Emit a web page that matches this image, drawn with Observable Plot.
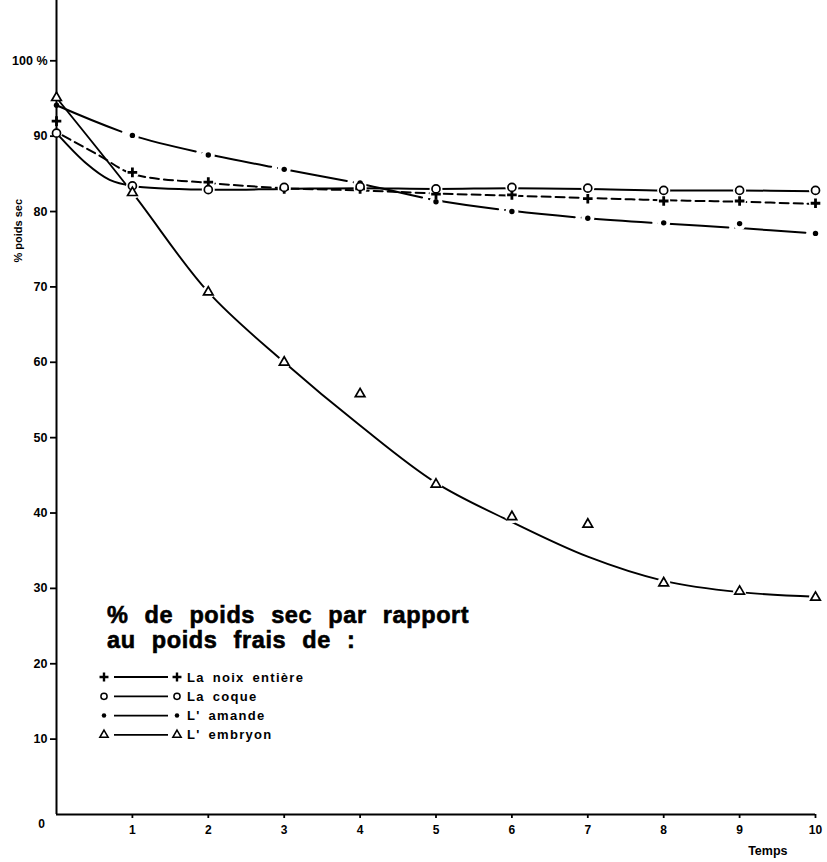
<!DOCTYPE html>
<html><head><meta charset="utf-8">
<script src="https://cdn.jsdelivr.net/npm/d3@7"></script>
<script src="https://cdn.jsdelivr.net/npm/@observablehq/plot@0.6"></script>
<style>
body{margin:0;background:#fff;}
#wrap{position:relative;width:827px;height:862px;}
#legend{position:absolute;left:0;top:0;pointer-events:none;}
</style></head><body><div id="wrap"></div>
<script>
// ---- data ----
const temps = [0, 1, 2, 3, 4, 5, 6, 7, 8, 9, 10];
// measured points
const noix    = [92.0, 85.2, 83.9, 83.0, 83.0, 82.3, 82.2, 81.7, 81.4, 81.4, 81.1];
const coque   = [90.4, 83.4, 82.9, 83.2, 83.3, 83.0, 83.2, 83.1, 82.8, 82.8, 82.8];
const amande  = [94.1, 90.1, 87.5, 85.6, 83.8, 81.3, 80.0, 79.1, 78.5, 78.4, 77.1];
const embryon = [95.1, 82.5, 69.3, 60.0, 55.8, 43.8, 39.5, 38.5, 30.7, 29.6, 28.8];
// hand-drawn fitted curves
const noixCurveX    = [0.08, 0.57, 1, 2, 3, 4, 5, 6, 7, 8, 9, 10];
const noixCurveY    = [90.1, 87.4, 85.0, 83.8, 83.1, 82.8, 82.4, 82.1, 81.8, 81.5, 81.3, 81.0];
const coqueCurveX   = [0, 0.39, 0.7, 1, 2, 3, 4, 5, 6, 7, 8, 9, 10];
const coqueCurveY   = [90.4, 86.4, 84.2, 83.4, 82.9, 83.0, 83.1, 83.0, 83.1, 83.0, 82.8, 82.8, 82.7];
const amandeCurveX  = [0, 1, 2, 3, 4, 5, 6, 7, 8, 9, 10];
const amandeCurveY  = [94.1, 90.1, 87.6, 85.6, 83.7, 81.5, 80.1, 79.1, 78.4, 77.8, 77.1];
const embryonCurveX = [0, 1, 2, 3, 4, 5, 6, 7, 8, 9, 10];
const embryonCurveY = [95.1, 82.5, 69.3, 60.0, 51.6, 44.0, 38.8, 34.2, 31.0, 29.5, 28.9];

const xTicks = [1, 2, 3, 4, 5, 6, 7, 8, 9, 10];
const yTicks = [10, 20, 30, 40, 50, 60, 70, 80, 90, 100];
const yTickLabels = ["10", "20", "30", "40", "50", "60", "70", "80", "90", "100 %"];
const xTitle = "Temps";
const yTitle = "% poids sec";
const originLabel = "0";
const legendTitle = ["% de poids sec par rapport", "au poids frais de :"];
const seriesNames = ["La noix entière", "La coque", "L' amande", "L' embryon"];

// ---- build tables ----
const pts = (ys) => temps.map((t, i) => ({x: t, y: ys[i]}));
const crv = (xs, ys) => xs.map((x, i) => ({x, y: ys[i]}));
const P = {noix: pts(noix), coque: pts(coque), amande: pts(amande), embryon: pts(embryon)};
const C = {
  noix: crv(noixCurveX, noixCurveY), coque: crv(coqueCurveX, coqueCurveY),
  amande: crv(amandeCurveX, amandeCurveY), embryon: crv(embryonCurveX, embryonCurveY)
};
const allPts = [...P.noix, ...P.coque, ...P.amande, ...P.embryon].filter(d => d.x > 0);

const FONT = "'Liberation Sans', Arial, sans-serif";
const lineOpt = {x: "x", y: "y", curve: "catmull-rom", stroke: "#000", strokeWidth: 2};

const chart = Plot.plot({
  width: 827, height: 862,
  marginLeft: 56, marginRight: 12, marginTop: 0, marginBottom: 48,
  x: {domain: [0, 10], axis: null},
  y: {domain: [0, 108], axis: null},
  style: {fontFamily: FONT, background: "#fff", color: "#000"},
  marks: [
    Plot.axisY(yTicks, {label: null, tickSize: 6, tickPadding: 3, strokeWidth: 1.8,
      tickFormat: (d) => yTickLabels[yTicks.indexOf(d)], fontSize: 12.5, fontWeight: "bold"}),
    Plot.axisX(xTicks, {label: null, tickSize: 4, tickPadding: 7, strokeWidth: 1.8,
      fontSize: 12, fontWeight: "bold"}),
    Plot.line(C.noix, {...lineOpt, strokeDasharray: "9,5"}),
    Plot.line(C.coque, {...lineOpt}),
    Plot.line(C.amande, {...lineOpt, strokeDasharray: "70,7"}),
    Plot.line(C.embryon, {...lineOpt, strokeWidth: 1.9}),
    // white halos to open gaps in the lines around markers
    Plot.dot(allPts, {x: "x", y: "y", r: 6.5, fill: "#fff", stroke: "none"}),
    Plot.ruleX([0], {stroke: "#000", strokeWidth: 2}),
    Plot.ruleY([0], {stroke: "#000", strokeWidth: 2}),
    Plot.dot(P.amande, {x: "x", y: "y", r: 2.7, fill: "#000", stroke: "none"}),
    Plot.dot(P.noix, {x: "x", y: "y", symbol: "plus", r: 3.2, stroke: "#000", strokeWidth: 2.8}),
    Plot.dot(P.coque, {x: "x", y: "y", r: 4, fill: "#fff", stroke: "#000", strokeWidth: 1.7}),
    Plot.dot(P.embryon, {x: "x", y: "y", symbol: "triangle2", r: 4.6, fill: "#fff", stroke: "#000", strokeWidth: 1.7}),
    Plot.text([originLabel], {x: () => 0, y: () => 0, text: (d) => d, dx: -15, dy: 10,
      fontSize: 12, fontWeight: "bold"}),
    Plot.text([xTitle], {frameAnchor: "bottom-right", text: (d) => d, dx: -28, dy: 40,
      fontSize: 12.5, fontWeight: "bold", textAnchor: "end"}),
    Plot.text([yTitle], {frameAnchor: "top-left", text: (d) => d, dx: -42, dy: 262,
      rotate: -90, fontSize: 11, fontWeight: "bold"})
  ]
});
const wrap = document.getElementById("wrap");
wrap.appendChild(chart);

// ---- legend overlay ----
const leg = d3.select(wrap).append("svg").attr("id", "legend")
  .attr("width", 827).attr("height", 862);
leg.selectAll("text.title").data(legendTitle).join("text")
  .attr("x", 107).attr("y", (d, i) => 623 + i * 25)
  .attr("font-family", FONT).attr("font-weight", 900).attr("font-size", 23.5)
  .attr("word-spacing", 9).attr("letter-spacing", 0.6)
  .attr("stroke", "#000").attr("stroke-width", 0.6)
  .text(d => d);
const symbols = [
  {type: d3.symbolPlus, size: 28, fill: "none", sw: 2.4},
  {type: d3.symbolCircle, size: 30, fill: "#fff", sw: 1.5},
  {type: d3.symbolCircle, size: 16, fill: "#000", sw: 0},
  {type: d3.symbolTriangle2, size: 50, fill: "#fff", sw: 1.5}
];
const rows = leg.selectAll("g.row").data(seriesNames).join("g")
  .attr("transform", (d, i) => `translate(0,${677 + i * 19.3})`);
rows.append("line").attr("x1", 114).attr("x2", 168).attr("y1", 0).attr("y2", 0)
  .attr("stroke", "#000").attr("stroke-width", 1.8);
[104, 177].forEach(cx => {
  rows.append("path").attr("transform", `translate(${cx},0)`)
    .attr("d", (d, i) => d3.symbol(symbols[i].type, symbols[i].size)())
    .attr("fill", (d, i) => symbols[i].fill)
    .attr("stroke", (d, i) => symbols[i].sw ? "#000" : "none")
    .attr("stroke-width", (d, i) => symbols[i].sw);
});
rows.append("text").attr("x", 187).attr("y", 4.5)
  .attr("font-family", FONT).attr("font-weight", "bold").attr("font-size", 13)
  .attr("letter-spacing", 1.3).attr("word-spacing", 3)
  .text(d => d);
</script></body></html>
